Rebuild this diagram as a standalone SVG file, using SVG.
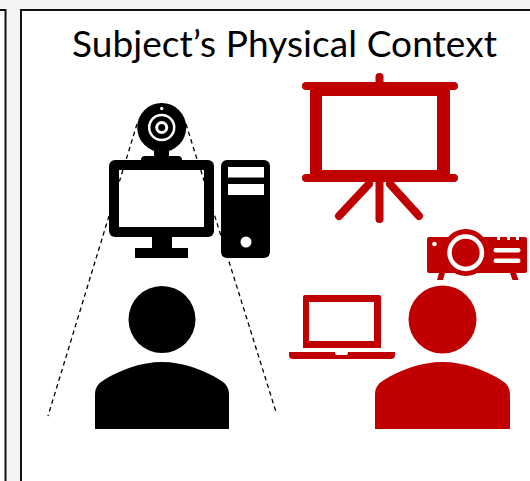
<svg xmlns="http://www.w3.org/2000/svg" width="530" height="481" viewBox="0 0 530 481">
<style>
.k{fill:#000}.r{fill:#c00000}.w{fill:#fff}
.rs{stroke:#c00000;stroke-width:8;stroke-linecap:round;fill:none}
.dash{stroke:#000;stroke-width:1.300;stroke-dasharray:4.500 3.500;fill:none}
.frame{fill:#fff;stroke:#111;stroke-width:2}
</style>
<rect width="530" height="481" fill="#f3f3f3"/>
<rect class="frame" x="-10" y="10" width="15.500" height="480"/>
<rect class="frame" x="21" y="10" width="520" height="480"/>
<text x="72" y="57" font-family="Lato,'Liberation Sans',sans-serif" font-size="37" fill="#000" textLength="425">Subject’s Physical Context</text>
<g id="connectors">
<path class="dash" d="M137 124L48 416"/>
<path class="dash" d="M186 124L276 412"/>
</g>
<g id="webcam">
<circle class="k" cx="161.700" cy="127.500" r="24.500"/>
<rect class="k" x="154" y="148" width="15" height="12"/>
<rect class="k" x="141" y="156" width="41" height="8" rx="4"/>
<circle cx="161.700" cy="127.500" r="12.500" fill="none" stroke="#fff" stroke-width="2.500"/>
<circle class="w" cx="161.700" cy="127.500" r="6.500"/>
<circle class="k" cx="161.700" cy="127.500" r="3.500"/>
<circle class="w" cx="161.700" cy="108.500" r="1.700"/>
</g>
<g id="monitor">
<rect class="k" x="109" y="160" width="105" height="77" rx="6"/>
<rect class="w" x="119" y="170" width="85" height="57"/>
<rect class="k" x="152" y="237" width="20" height="12"/>
<rect class="k" x="135" y="248" width="53" height="10"/>
<path class="dash" d="M122.900 170L119.400 181.500"/>
<path class="dash" d="M200.800 170L204 181"/>
</g>
<g id="tower">
<rect class="k" x="221" y="160" width="49" height="98" rx="6"/>
<rect class="w" x="228" y="167" width="36" height="10.500"/>
<rect class="w" x="228" y="184" width="36" height="11"/>
<circle class="w" cx="246" cy="242" r="5.500"/>
</g>
<g id="subject">
<circle class="k" cx="162" cy="319.500" r="33.500"/>
<path class="k" d="M95 429V394Q95 385 104 380C120 370 141 362 162 362C183 362 204 370 220 380Q229 385 229 394V429Z"/>
</g>
<g id="screen">
<path class="rs" d="M379.500 77V82M306 86H454M306 178H454M379.500 182V219M369 184L339 216M390 184L419 216"/>
<path class="r" fill-rule="evenodd" d="M310 86H450V178H310ZM322 96V170H437V96Z"/>
</g>
<g id="projector">
<path class="r" d="M429 237H497V240H500V237H507V240H510V237H516V240H519V237H525Q527 237 527 239V271Q527 273 525 273H516L518.500 280H512.500L510 273H445L443 280H437L439 273H429Q427 273 427 271V239Q427 237 429 237Z"/>
<circle class="r" cx="465.700" cy="252.500" r="23.500"/>
<circle cx="465.700" cy="252.700" r="16.200" fill="none" stroke="#fff" stroke-width="4.500"/>
<circle class="w" cx="434.500" cy="244" r="2.300"/>
<rect class="w" x="493.500" y="248" width="27" height="4.500" rx="2.200"/>
<rect class="w" x="493.500" y="258.500" width="27" height="4.500" rx="2.200"/>
</g>
<g id="laptop">
<path class="r" fill-rule="evenodd" d="M305 295H379Q381 295 381 297V348H303V297Q303 295 305 295ZM309 302V341H374V302Z"/>
<path class="r" d="M289 352H335V353Q335 355 337 355H346Q348 355 348 353V352H395V355Q395 359 391 359H293Q289 359 289 355Z"/>
</g>
<g id="presenter">
<circle class="r" cx="442.500" cy="319.500" r="34"/>
<path class="r" d="M375 429V394Q375 385 384 380C400 370 421 362 442.500 362C464 362 485 370 501 380Q510 385 510 394V429Z"/>
</g>
</svg>
